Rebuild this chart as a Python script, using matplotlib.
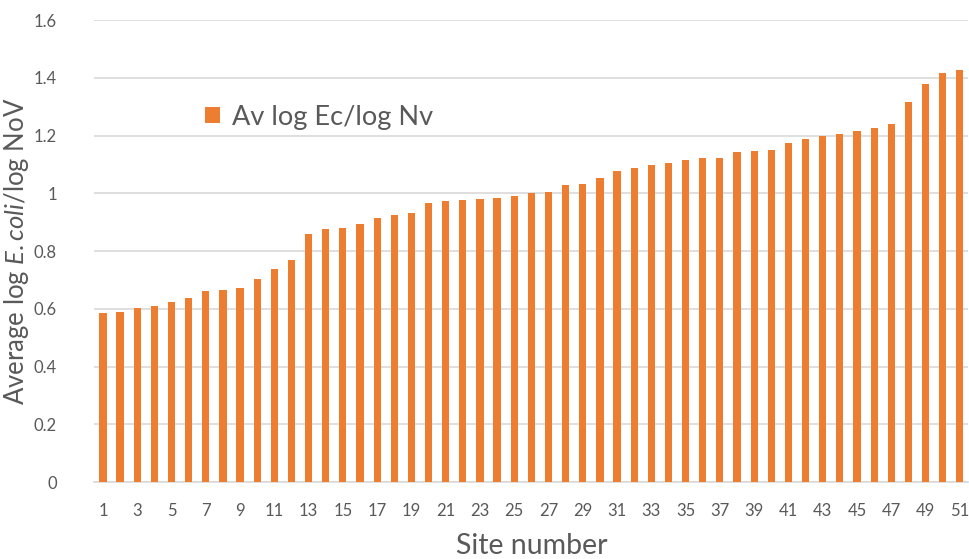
import matplotlib
matplotlib.use("Agg")
import matplotlib.pyplot as plt
import numpy as np

# Average log E.coli / log NoV per site, sorted ascending
sites = list(range(1, 52))
ratio = [0.585, 0.589, 0.604, 0.609, 0.622, 0.636, 0.660, 0.664, 0.671, 0.702,
         0.739, 0.769, 0.858, 0.877, 0.881, 0.894, 0.913, 0.925, 0.930, 0.966,
         0.973, 0.978, 0.981, 0.985, 0.990, 1.001, 1.005, 1.029, 1.033, 1.052,
         1.076, 1.086, 1.099, 1.106, 1.116, 1.122, 1.122, 1.143, 1.146, 1.149,
         1.173, 1.187, 1.197, 1.206, 1.216, 1.227, 1.241, 1.317, 1.379, 1.415,
         1.426]
yticks = [0, 0.2, 0.4, 0.6, 0.8, 1.0, 1.2, 1.4, 1.6]

plt.rcParams['font.family'] = ['Lato', 'DejaVu Sans']
plt.rcParams['mathtext.fontset'] = 'custom'
plt.rcParams['mathtext.rm'] = 'Lato'
plt.rcParams['mathtext.it'] = 'Lato:italic'

fig = plt.figure(figsize=(9.7, 5.59), dpi=100)
ax = fig.add_axes([0.0973, 0.1377, 0.901, 0.8265])

x = np.arange(len(sites))
ax.bar(x, ratio, width=0.42, color='#ED7D31', label='Av log Ec/log Nv', zorder=3)

ax.set_xlim(-0.5, len(sites) - 0.5)
ax.set_ylim(0, 1.6)
ax.set_xticks(x[::2])
ax.set_xticklabels([str(s) for s in sites[::2]])
ax.set_yticks(yticks)
ax.set_yticklabels(['%g' % v for v in yticks])
ax.tick_params(axis='both', length=0, labelsize=12, labelcolor='#595959')
ax.tick_params(axis='x', pad=15)
ax.tick_params(axis='y', pad=27)
ax.yaxis.grid(True, color='#d9d9d9', linewidth=1.2, zorder=0)

for s in ['top', 'right', 'left']:
    ax.spines[s].set_visible(False)
ax.spines['bottom'].set_color('#d9d9d9')
ax.spines['bottom'].set_linewidth(1.2)

ax.set_ylabel('Average log $\\mathit{E.coli}$/log NoV', fontsize=18.5, color='#595959')
ax.yaxis.label.set_va('center')
ax.yaxis.set_label_coords(-0.089, 0.5)
ax.set_xlabel('Site number', fontsize=20.5, color='#595959', labelpad=10)

ax.legend(loc='center left', bbox_to_anchor=(0.211, 0.79), bbox_transform=fig.transFigure,
          frameon=False, fontsize=19.5, labelcolor='#595959', handlelength=0.55,
          handleheight=0.55, handletextpad=0.45, borderaxespad=0, borderpad=0)

fig.savefig('out.png', dpi=100)
